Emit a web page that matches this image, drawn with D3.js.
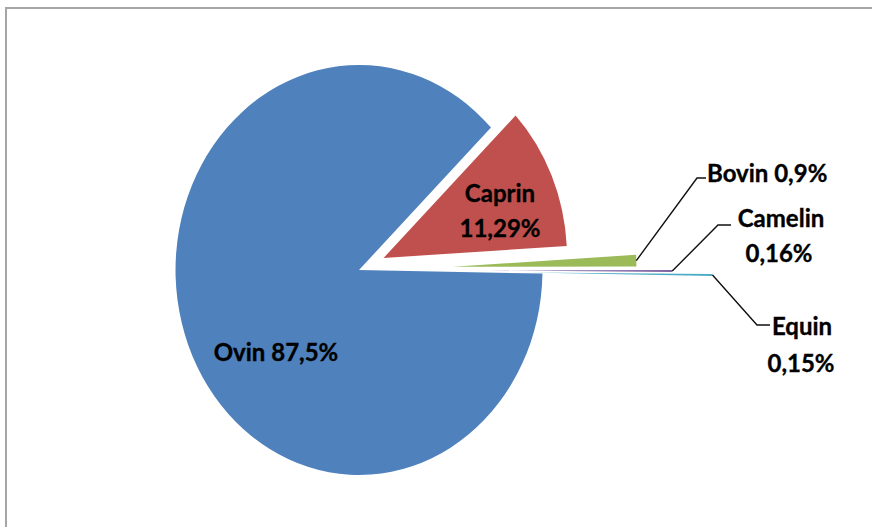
<!DOCTYPE html>
<html>
<head>
<meta charset="utf-8">
<script src="https://cdn.jsdelivr.net/npm/d3@7"></script>
<style>
  html, body { margin: 0; padding: 0; background: #fff; overflow: hidden; }
  svg { display: block; }
  text { font-family: Lato, "Open Sans", sans-serif; font-weight: 700; fill: #000; stroke: #000; stroke-width: 0.35px; }
</style>
</head>
<body>
<svg id="chart" width="872" height="527"></svg>
<script>
// Livestock shares (%)
const categories = ["Ovin", "Caprin", "Bovin", "Camelin", "Equin"];
const shares = [87.5, 11.29, 0.9, 0.16, 0.15];
const colors = ["#4F81BD", "#C0504D", "#9BBB59", "#8064A2", "#4BACC6"];

// Layout
const W = 872, H = 527;
const cx = 359, cy = 270;
const R = 205;           // vertical radius
const sx = 0.895;        // horizontal squeeze of the pie
const firstAngle = 91 * Math.PI / 180;
const explode = [0, 30, 105, 145, 190];   // radial offset of each slice

const fmt = v => String(v).replace(".", ",") + "%";

const svg = d3.select("#chart");

// frame (top and left edges)
svg.append("path")
  .attr("d", `M6,${H} V8 H${W}`)
  .attr("fill", "none")
  .attr("stroke", "#a6a6a6")
  .attr("stroke-width", 2);

const pie = d3.pie().sort(null)
  .startAngle(firstAngle)
  .endAngle(firstAngle + 2 * Math.PI);
const arcs = pie(shares);
const arc = d3.arc().innerRadius(0).outerRadius(R);

// offset vector (unscaled) of each slice along its bisector
function offset(d, i) {
  const m = (d.startAngle + d.endAngle) / 2;
  return [explode[i] * Math.sin(m), -explode[i] * Math.cos(m)];
}
// screen point for a polar position relative to a slice's exploded tip
function toScreen(d, i, angle, rad) {
  const o = offset(d, i);
  return [cx + sx * (o[0] + rad * Math.sin(angle)),
          cy + (o[1] - rad * Math.cos(angle))];
}

const g = svg.append("g")
  .attr("transform", `translate(${cx},${cy}) scale(${sx},1)`);

g.selectAll("path.slice")
  .data(arcs)
  .join("path")
  .attr("class", "slice")
  .attr("transform", (d, i) => { const o = offset(d, i); return `translate(${o[0]},${o[1]})`; })
  .attr("d", arc)
  .attr("fill", (d, i) => colors[i]);

// labels inside the two large slices
svg.append("text")
  .attr("x", 276).attr("y", 361)
  .attr("text-anchor", "middle")
  .attr("font-size", 24)
  .text(`${categories[0]} ${fmt(shares[0])}`);

const capLbl = svg.append("text")
  .attr("text-anchor", "middle")
  .attr("font-size", 24);
capLbl.append("tspan").attr("x", 500).attr("y", 202).text(categories[1]);
capLbl.append("tspan").attr("x", 500).attr("y", 237).text(fmt(shares[1]));

// leader lines for the small slices
const leaders = [
  { i: 2, bend: [697, 178], end: [706, 178] },
  { i: 3, bend: [718, 225], end: [731, 225] },
  { i: 4, bend: [757, 325], end: [770, 325] }
];
leaders.forEach(l => {
  const d = arcs[l.i];
  const m = (d.startAngle + d.endAngle) / 2;
  const p0 = toScreen(d, l.i, m, R);
  svg.append("path")
    .attr("d", d3.line()([p0, l.bend, l.end]))
    .attr("fill", "none")
    .attr("stroke", "#111")
    .attr("stroke-width", 1.4);
});

// outside labels
svg.append("text")
  .attr("x", 707).attr("y", 182)
  .attr("font-size", 24)
  .text(`${categories[2]} ${fmt(shares[2])}`);

const camLbl = svg.append("text").attr("text-anchor", "middle").attr("font-size", 24);
camLbl.append("tspan").attr("x", 781).attr("y", 227).text(categories[3]);
camLbl.append("tspan").attr("x", 779).attr("y", 262).text(fmt(shares[3]));

const eqLbl = svg.append("text").attr("text-anchor", "middle").attr("font-size", 24);
eqLbl.append("tspan").attr("x", 802).attr("y", 335).text(categories[4]);
eqLbl.append("tspan").attr("x", 801).attr("y", 372).text(fmt(shares[4]));
</script>
</body>
</html>
